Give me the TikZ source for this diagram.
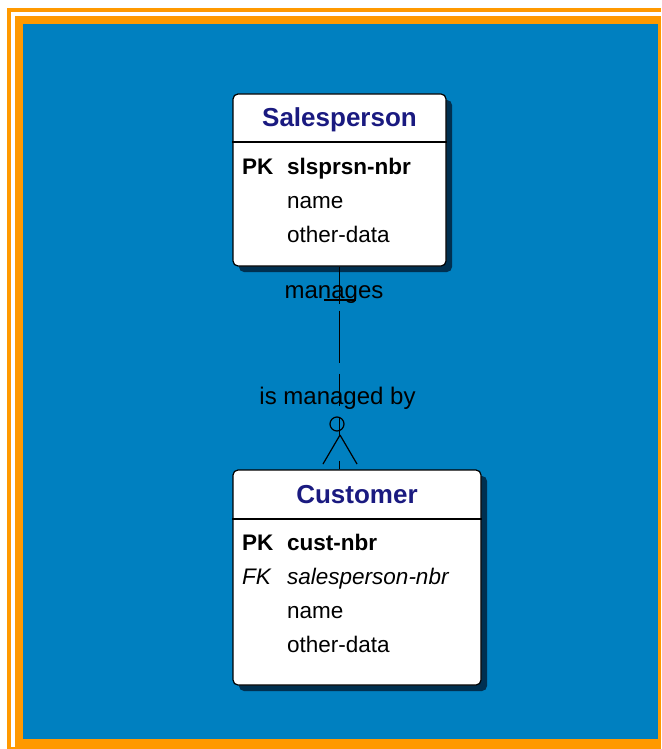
\documentclass[tikz,border=0pt]{standalone}
\usepackage{fontspec}
\setmainfont{Liberation Sans}
\usetikzlibrary{shadows}
\definecolor{bgblue}{RGB}{0,128,192}
\definecolor{frameorange}{RGB}{255,153,0}
\definecolor{titleblue}{RGB}{26,26,128}
\definecolor{shadowblue}{RGB}{0,48,80}
\begin{document}
\begin{tikzpicture}[x=1pt,y=-1pt,
	entity/.style={draw=black, line width=1.2pt, fill=white, rounded corners=5pt, inner sep=0pt,
		drop shadow={shadow xshift=6pt, shadow yshift=-6pt, fill=shadowblue, opacity=1}},
	etitle/.style={font=\fontsize{26}{26}\selectfont\bfseries, text=titleblue, anchor=base, inner sep=0pt},
	attr/.style={font=\fontsize{22.5}{22.5}\selectfont, anchor=base west, inner sep=0pt},
	rel/.style={font=\fontsize{24}{24}\selectfont, anchor=base, inner sep=0pt}]
	\useasboundingbox (0,0) rectangle (661,749);
	% frame
	\fill[frameorange] (7,8) rectangle (661,751);
	\fill[white] (11,12) rectangle (661,747);
	\fill[frameorange] (15,16) rectangle (661,747);
	\fill[bgblue] (23,24) rectangle (658,739);
	% entities
	\node[entity, minimum width=213pt, minimum height=172pt] (sp) at (339.5,180) {};
	\node[entity, minimum width=248pt, minimum height=215pt] (cu) at (357,577.5) {};
	\draw[line width=1.2pt] (sp.west |- 0,142) -- (sp.east |- 0,142);
	\draw[line width=1.2pt] (cu.west |- 0,519) -- (cu.east |- 0,519);
	\node[etitle] (sptitle) at (339.5,127) {Salesperson};
	\node[etitle] (cutitle) at (357,503) {Customer};
	\node[attr] (sppk) at (242,174) {\bfseries PK};
	\node[attr] (spnbr) at (287,174) {\bfseries slsprsn-nbr};
	\node[attr] (spname) at (287,208) {name};
	\node[attr] (spdata) at (287,242) {other-data};
	\node[attr] (cupk) at (242,550) {\bfseries PK};
	\node[attr] (cunbr) at (287,550) {\bfseries cust-nbr};
	\node[attr] (cufk) at (242,584) {\itshape FK};
	\node[attr] (cusp) at (287,584) {\itshape salesperson-nbr};
	\node[attr] (cuname) at (287,618) {name};
	\node[attr] (cudata) at (287,652) {other-data};
	% relationship
	\draw[line width=1.3pt, dash pattern=on 37pt off 7pt on 52pt off 11pt on 32pt off 12pt on 18pt off 25pt on 10pt]
		(sp.south) -- (sp.south |- cu.north);
	\coordinate (bar) at (340,300);
	\draw[line width=1.2pt] ([xshift=-16pt]bar) -- ([xshift=16pt]bar);
	\draw[line width=1.2pt] (337,424) circle[radius=7pt];
	\coordinate (apex) at (340,435);
	\draw[line width=1.2pt] (apex) -- (323,464);
	\draw[line width=1.2pt] (apex) -- (357,464);
	\node[rel] (mgs) at (334,298) {manages};
	\node[rel] (mgdby) at (337.5,404) {is managed by};
\end{tikzpicture}
\end{document}
